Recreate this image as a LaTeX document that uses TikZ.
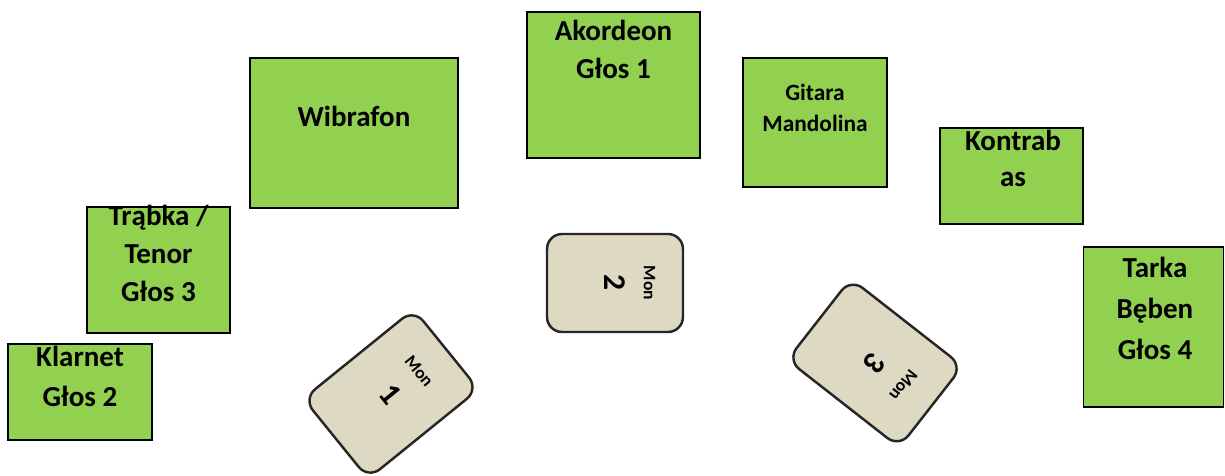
\documentclass[tikz,border=0pt]{standalone}
\usepackage{fontspec}
\setmainfont{Carlito}
\usetikzlibrary{calc}
\tikzset{every picture/.style={line width=0.75pt}}
\definecolor{zielony}{HTML}{92D050}
\definecolor{bez}{HTML}{DDD9C3}

\begin{document}
\begin{tikzpicture}[x={(0.02cm,0cm)}, y={(0cm,-0.02cm)},
  instr/.style={draw=black, line width=1.1pt, fill=zielony, inner sep=0pt},
  napis/.style={font=\fontsize{16.5}{21.6}\selectfont\bfseries, align=center, anchor=base, inner sep=0pt},
  monitor/.style={draw=black!85, line width=1.4pt, fill=bez, rounded corners=0.3cm,
    minimum width=1.96cm, minimum height=2.72cm, inner sep=0pt, font=\fontsize{18}{20}\selectfont\bfseries},
  mon/.style={font=\fontsize{10}{12}\selectfont\bfseries, inner sep=0pt}]
  \useasboundingbox (0,0) rectangle (1225,476);

  % Instrumenty
  \node[instr, minimum width=4.16cm, minimum height=3.0cm] (wibrafon) at (354,133) {};
  \node[instr, minimum width=3.46cm, minimum height=2.92cm] (akordeon) at (613.5,85) {};
  \node[instr, minimum width=2.88cm, minimum height=2.58cm] (gitara) at (815,122.5) {};
  \node[instr, minimum width=2.86cm, minimum height=1.92cm] (kontrabas) at (1011.5,176) {};
  \node[instr, minimum width=2.80cm, minimum height=3.20cm] (tarka) at (1153.5,327) {};
  \node[instr, minimum width=2.86cm, minimum height=2.52cm] (trabka) at (158.5,270) {};
  \node[instr, minimum width=2.88cm, minimum height=1.92cm] (klarnet) at (80,392) {};

  % Napisy (base = ostatnia linia)
  \node[napis] (wibrafon-t) at ($(wibrafon.north)+(0,69)$) {Wibrafon};
  \node[napis] (akordeon-t) at ($(akordeon.north)+(0,67)$) {Akordeon\\Głos 1};
  \node[napis, font=\fontsize{13.3}{17.6}\selectfont\bfseries] (gitara-t) at ($(gitara.north)+(0,74)$) {Gitara\\Mandolina};
  \node[napis, font=\fontsize{16.5}{20}\selectfont\bfseries] (kontrabas-t) at ($(kontrabas.north)+(1.5,59)$) {Kontrab\\as};
  \node[napis, font=\fontsize{16.5}{23.3}\selectfont\bfseries] (tarka-t) at ($(tarka.north)+(1.5,113)$) {Tarka\\Bęben\\Głos 4};
  \node[napis] (trabka-t) at ($(trabka.north)+(0,95)$) {Trąbka /\\Tenor\\Głos 3};
  \node[napis, font=\fontsize{16.5}{22.7}\selectfont\bfseries] (klarnet-t) at ($(klarnet.north)+(0,63)$) {Klarnet\\Głos 2};

  % Monitory
  \node[monitor, rotate=-51, minimum width=2.06cm, minimum height=2.84cm] (mon1) at (391,394) {1};
  \node[monitor, rotate=-90] (mon2) at (615,283) {2};
  \node[monitor, rotate=-128, minimum width=2.06cm, minimum height=2.84cm] (mon3) at (875,363) {3};
  \foreach \m/\r in {mon1/-51, mon2/-90, mon3/-128}
    \node[mon, rotate=\r] (\m-t) at ($(\m.center)!0.5!(\m.north)$) {Mon};
\end{tikzpicture}
\end{document}
